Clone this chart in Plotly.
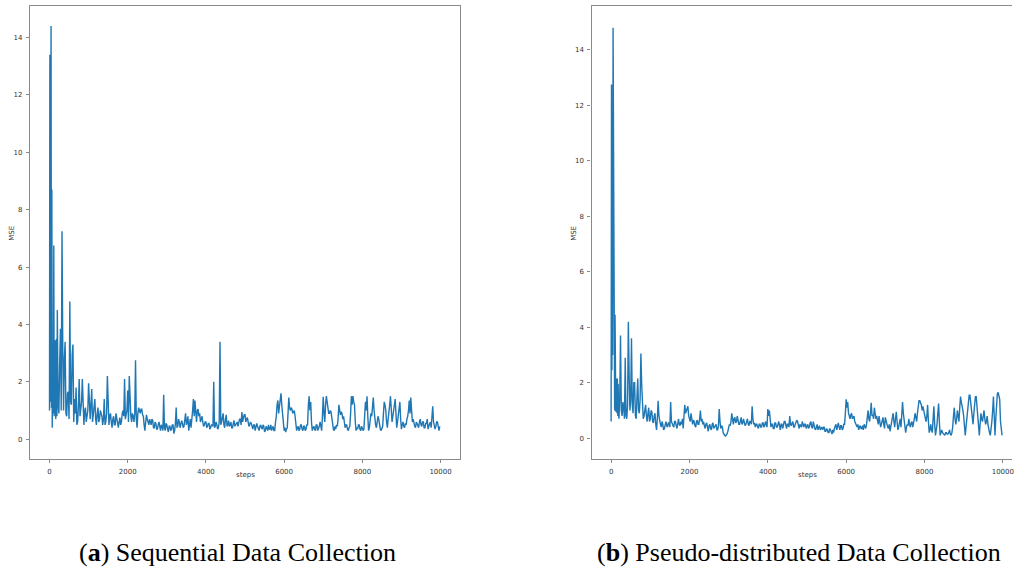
import plotly.graph_objects as go

# ---------------- data ----------------
steps = list(range(0, 200, 10)) + list(range(200, 10000, 20))

mse_sequential = [
    # 0 - 190 (every 10)
    1.0, 13.4, 1.3, 9.3, 14.4, 1.1, 8.7, 0.4, 1.9, 0.9,
    1.8, 6.75, 0.8, 2.7, 0.9, 3.45, 0.7, 1.9, 3.5, 0.8,
    # 200 onwards (every 20), 20 values per row
    4.5, 1.2, 0.9, 2.6, 3.85, 1.0, 7.25, 3.1, 1.0, 2.8, 3.4, 0.9, 0.8, 1.6, 1.65, 0.7, 4.8, 1.3, 1.2, 2.95,
    3.3, 0.6, 1.4, 0.9, 1.8, 0.5, 0.6, 1.2, 2.1, 0.8, 1.0, 1.3, 2.1, 0.7, 0.5, 1.0, 1.1, 0.6, 0.8, 1.0,
    1.95, 0.8, 0.7, 1.2, 1.75, 0.6, 0.9, 1.1, 1.4, 0.7, 0.5, 0.9, 1.1, 0.6, 0.7, 1.0, 0.9, 0.8, 0.5, 0.7,
    1.4, 0.5, 0.6, 0.9, 2.2, 0.7, 0.5, 0.8, 0.9, 0.6, 0.4, 0.7, 0.8, 0.5, 0.5, 0.9, 0.7, 0.6, 0.4, 0.6,
    0.75, 0.5, 0.6, 0.9, 1.0, 0.8, 2.1, 0.7, 0.9, 1.0, 1.7, 0.6, 2.2, 0.9, 0.8, 0.6, 0.9, 0.8, 0.6, 0.9,
    2.75, 0.7, 0.4, 0.9, 1.1, 1.0, 0.9, 1.05, 1.05, 0.85, 0.8, 0.5, 0.3, 0.6, 0.85, 0.7, 0.6, 0.5, 0.7, 0.55,
    0.5, 0.7, 0.65, 0.4, 0.4, 0.6, 0.55, 0.35, 0.35, 0.5, 0.6, 0.45, 0.3, 0.5, 0.45, 0.3, 1.55, 0.4, 0.3, 0.55,
    0.5, 0.35, 0.25, 0.45, 0.45, 0.3, 0.35, 0.5, 0.5, 0.2, 0.3, 0.55, 1.1, 0.4, 0.45, 0.7, 0.6, 0.4, 0.5, 0.65,
    0.55, 0.4, 0.45, 0.7, 0.9, 0.5, 0.6, 0.8, 0.3, 0.5, 0.7, 0.4, 0.9, 1.0, 1.4, 0.8, 1.35, 0.9, 0.6, 1.0,
    1.05, 0.8, 0.9, 0.6, 0.7, 0.8, 0.6, 0.45, 0.5, 0.6, 0.6, 0.4, 0.45, 0.55, 0.55, 0.35, 0.4, 0.5, 0.5, 0.45,
    2.0, 0.4, 0.45, 0.6, 0.5, 0.35, 0.4, 0.6, 3.4, 0.5, 0.6, 0.8, 0.9, 0.5, 0.4, 0.7, 0.85, 0.45, 0.5, 0.65,
    0.45, 0.5, 0.6, 0.4, 0.4, 0.55, 0.65, 0.45, 0.5, 0.6, 0.6, 0.45, 0.55, 0.7, 0.7, 0.5, 0.95, 0.6, 0.75, 0.85,
    0.85, 0.6, 0.7, 0.75, 0.6, 0.45, 0.5, 0.6, 0.55, 0.4, 0.35, 0.5, 0.5, 0.3, 0.4, 0.55, 0.45, 0.35, 0.3, 0.45,
    0.5, 0.4, 0.35, 0.5, 0.45, 0.25, 0.3, 0.45, 0.4, 0.3, 0.5, 0.35, 0.35, 0.5, 0.3, 0.4, 0.45, 0.3, 0.3, 0.6,
    0.8, 1.2, 1.35, 0.9, 1.1, 1.3, 1.6, 1.2, 0.9, 0.5, 0.3, 0.4, 0.25, 0.35, 0.4, 0.9, 1.45, 1.1, 1.0, 1.1,
    1.05, 0.9, 0.95, 1.0, 0.8, 0.5, 0.3, 0.4, 0.45, 0.3, 0.35, 0.5, 0.5, 0.35, 0.3, 0.45, 0.45, 0.3, 0.35, 0.5,
    0.5, 1.2, 1.5, 1.0, 1.3, 0.6, 0.3, 0.4, 0.45, 0.35, 0.3, 0.5, 0.5, 0.3, 0.35, 0.45, 0.6, 0.4, 0.3, 0.8,
    1.48, 0.9, 0.6, 1.2, 1.5, 1.3, 1.0, 0.9, 0.9, 1.0, 0.95, 0.7, 0.4, 0.35, 0.3, 0.45, 0.35, 0.5, 0.45, 0.7,
    1.2, 1.0, 0.85, 0.95, 0.9, 0.7, 0.8, 0.6, 0.4, 0.5, 0.5, 0.35, 0.3, 0.4, 0.45, 0.9, 1.5, 1.2, 1.5, 1.3,
    1.2, 0.6, 0.3, 0.4, 0.35, 0.5, 0.5, 0.35, 0.3, 0.45, 0.4, 0.3, 0.35, 0.8, 1.3, 1.0, 1.5, 0.8, 0.3, 0.4,
    0.6, 0.9, 0.8, 1.1, 1.45, 1.0, 0.6, 0.5, 0.4, 0.6, 0.8, 0.7, 0.5, 0.35, 0.3, 0.4, 0.45, 0.9, 1.3, 1.2,
    1.0, 0.6, 0.4, 0.7, 0.9, 1.2, 1.5, 1.0, 0.6, 0.8, 1.0, 1.2, 1.4, 0.9, 0.4, 0.6, 0.9, 1.1, 1.3, 0.7,
    0.35, 0.5, 0.6, 0.45, 0.4, 0.55, 0.5, 0.7, 0.8, 1.0, 1.35, 0.9, 1.45, 1.0, 0.6, 0.7, 0.5, 0.45, 0.4, 0.6,
    0.55, 0.45, 0.4, 0.6, 0.7, 0.5, 0.45, 0.6, 0.6, 0.4, 0.4, 0.55, 0.55, 0.7, 0.35, 0.45, 0.5, 0.6, 0.4, 0.7,
    1.15, 0.6, 0.5, 0.35, 0.45, 0.6, 0.6, 0.4, 0.3, 0.45,
]

mse_distributed = [
    # 0 - 190 (every 10)
    0.6, 12.75, 2.45, 9.0, 3.0, 14.8, 8.4, 2.5, 4.5, 1.0,
    4.45, 1.0, 0.95, 2.15, 1.0, 0.9, 2.15, 0.8, 1.95, 0.9,
    # 200 onwards (every 20), 20 values per row
    0.7, 1.4, 3.7, 1.0, 0.8, 1.3, 1.1, 0.7, 2.9, 0.8, 0.7, 1.2, 4.2, 2.3, 1.0, 1.4, 3.6, 1.2, 0.9, 2.0,
    2.0, 0.8, 0.7, 1.5, 2.15, 1.0, 0.9, 1.4, 3.05, 1.95, 1.5, 0.7, 0.8, 1.0, 1.2, 0.8, 0.6, 0.9, 1.1, 0.6,
    0.7, 1.0, 0.95, 0.6, 0.55, 0.8, 0.9, 0.5, 0.3, 0.7, 1.35, 0.8, 0.6, 0.5, 0.4, 0.6, 0.5, 0.3, 0.35, 0.5,
    0.6, 0.45, 0.4, 0.55, 0.55, 0.4, 1.3, 0.6, 0.5, 0.45, 0.4, 0.6, 0.6, 0.4, 0.35, 0.5, 0.7, 0.5, 0.45, 0.6,
    0.5, 0.7, 0.35, 0.8, 1.2, 0.9, 1.0, 1.1, 1.15, 0.8, 0.7, 0.6, 0.9, 0.7, 0.5, 0.65, 0.6, 0.45, 0.4, 0.6,
    0.65, 0.5, 0.5, 0.7, 1.0, 0.6, 0.7, 0.5, 0.6, 0.45, 0.35, 0.5, 0.55, 0.4, 0.25, 0.45, 0.5, 0.35, 0.3, 0.5,
    0.55, 0.35, 0.4, 0.5, 0.5, 0.3, 0.3, 0.45, 1.05, 0.6, 0.35, 0.45, 0.4, 0.2, 0.12, 0.1, 0.08, 0.12, 0.15, 0.25,
    0.35, 0.5, 0.45, 0.6, 0.9, 0.6, 0.5, 0.7, 0.75, 0.55, 0.6, 0.8, 0.7, 0.5, 0.5, 0.65, 0.75, 0.5, 0.55, 0.7,
    0.6, 0.45, 0.5, 0.65, 0.7, 0.5, 0.45, 0.6, 0.6, 0.5, 1.15, 0.7, 0.5, 0.55, 0.4, 0.5, 0.5, 0.4, 0.35, 0.5,
    0.5, 0.4, 0.4, 0.55, 0.55, 0.4, 0.45, 0.6, 0.5, 0.4, 1.05, 0.8, 1.0, 0.6, 0.4, 0.5, 0.5, 0.35, 0.35, 0.55,
    0.55, 0.4, 0.4, 0.5, 0.6, 0.45, 0.3, 0.5, 0.5, 0.35, 0.45, 0.6, 0.6, 0.4, 0.35, 0.5, 0.5, 0.4, 0.8, 0.5,
    0.45, 0.55, 0.6, 0.4, 0.4, 0.5, 0.55, 0.65, 0.6, 0.4, 0.35, 0.5, 0.45, 0.4, 0.6, 0.45, 0.4, 0.5, 0.5, 0.35,
    0.45, 0.5, 0.35, 0.4, 0.55, 0.6, 0.4, 0.35, 0.6, 0.45, 0.35, 0.3, 0.4, 0.5, 0.3, 0.35, 0.45, 0.3, 0.35, 0.4,
    0.3, 0.4, 0.4, 0.25, 0.25, 0.35, 0.3, 0.2, 0.2, 0.35, 0.3, 0.2, 0.15, 0.3, 0.2, 0.35, 0.45, 0.5, 0.3, 0.4,
    0.55, 0.4, 0.3, 0.45, 0.45, 0.3, 0.35, 0.5, 0.5, 0.9, 1.4, 1.1, 1.3, 0.9, 0.8, 0.7, 0.85, 0.9, 0.7, 0.75,
    0.8, 0.6, 0.5, 0.45, 0.4, 0.5, 0.3, 0.4, 0.45, 0.35, 0.35, 0.45, 0.3, 0.5, 0.4, 0.35, 0.5, 0.8, 1.0, 0.7,
    0.6, 0.9, 1.28, 0.8, 0.85, 0.7, 1.1, 0.9, 0.7, 0.8, 0.6, 0.5, 0.8, 0.6, 0.4, 0.5, 0.6, 0.75, 0.5, 0.35,
    0.75, 0.6, 0.5, 0.4, 0.35, 0.5, 0.25, 0.4, 0.5, 0.7, 0.9, 0.6, 0.4, 0.7, 0.95, 0.6, 0.3, 0.4, 0.5, 0.7,
    0.4, 0.8, 1.3, 0.9, 0.6, 0.3, 0.2, 0.4, 0.5, 0.45, 0.7, 0.5, 0.4, 0.55, 0.6, 0.4, 0.5, 0.7, 0.9, 0.7,
    0.6, 0.9, 1.2, 1.35, 1.35, 1.3, 1.2, 1.0, 1.15, 1.0, 0.9, 0.7, 0.6, 0.8, 1.2, 0.6, 0.2, 0.3, 0.5, 0.3,
    0.2, 0.7, 1.15, 0.5, 0.1, 0.3, 0.5, 0.9, 1.25, 0.6, 0.1, 0.2, 0.3, 0.2, 0.15, 0.1, 0.1, 0.2, 0.2, 0.15,
    0.15, 0.2, 0.3, 0.15, 0.1, 0.2, 0.4, 0.8, 1.1, 0.7, 0.5, 0.7, 1.0, 0.8, 0.6, 1.1, 1.5, 1.3, 1.2, 1.0,
    0.8, 0.4, 0.1, 0.4, 0.7, 1.0, 1.3, 1.55, 1.55, 1.3, 1.0, 0.8, 0.5, 0.9, 1.3, 1.5, 1.5, 1.2, 0.9, 0.5,
    0.1, 0.5, 0.9, 0.7, 0.6, 0.8, 1.0, 0.7, 0.5, 0.6, 0.8, 0.5, 0.3, 0.2, 0.1, 0.3, 0.6, 1.0, 1.5, 0.8,
    0.1, 0.7, 1.3, 1.6, 1.65, 1.5, 1.4, 0.6, 0.15, 0.1,
]

y_ticks = [0, 2, 4, 6, 8, 10, 12, 14]
x_ticks = [0, 2000, 4000, 6000, 8000, 10000]
x_tick_labels = ["0", "2000", "4000", "6000", "8000", "10000"]
captions = ["(<b>a</b>) Sequential Data Collection",
            "(<b>b</b>) Pseudo-distributed Data Collection"]

# ---------------- figure ----------------
W, H = 1014, 568
LINE = "#1f77b4"
SPINE = "#8a8a8a"

def px(x):
    return x / W

def py(y):
    return 1 - y / H

fig = go.Figure()
fig.add_trace(go.Scatter(x=steps[:len(mse_sequential)], y=mse_sequential, mode="lines",
                         line=dict(color=LINE, width=1.4),
                         xaxis="x", yaxis="y", showlegend=False))
fig.add_trace(go.Scatter(x=steps[:len(mse_distributed)], y=mse_distributed, mode="lines",
                         line=dict(color=LINE, width=1.4),
                         xaxis="x2", yaxis="y2", showlegend=False))

tickfont = dict(family="DejaVu Sans", size=7, color="#333333")
common_x = dict(tickvals=x_ticks, ticktext=x_tick_labels, ticks="outside", ticklen=3,
                tickwidth=1, tickcolor=SPINE, showgrid=False, zeroline=False,
                showline=True, linecolor=SPINE, linewidth=1.3,
                tickfont=tickfont, ticklabelstandoff=2, ticklabeloverflow="allow")
common_y = dict(tickvals=y_ticks, ticks="outside", ticklen=3, tickwidth=1,
                tickcolor=SPINE, showgrid=False, zeroline=False,
                showline=True, linecolor=SPINE, linewidth=1.3,
                tickfont=tickfont, ticklabelstandoff=2)

fig.update_layout(
    width=W, height=H,
    margin=dict(l=0, r=0, t=0, b=0),
    paper_bgcolor="white", plot_bgcolor="white",
    xaxis=dict(domain=[px(30), px(461)], range=[-500, 10500],
               anchor="y", mirror=True, **common_x),
    yaxis=dict(domain=[py(459), py(6)], range=[-0.69, 15.1],
               anchor="x", mirror=True, **common_y),
    xaxis2=dict(domain=[px(592.7), 1.0], range=[-500, 10234],
                anchor="y2", mirror=True, **common_x),
    yaxis2=dict(domain=[py(459), py(6)], range=[-0.75, 15.58],
                anchor="x2", **common_y),
)

label_font = dict(family="DejaVu Sans", size=7, color="#333333")
ann = []
for x_steps, x_mse in [(245.5, 11.7), (808.6, 575)]:
    ann.append(dict(text="steps", x=px(x_steps), y=py(475), xref="paper", yref="paper",
                    showarrow=False, font=label_font, xanchor="center", yanchor="middle"))
    ann.append(dict(text="MSE", x=px(x_mse), y=py(233), xref="paper", yref="paper",
                    showarrow=False, font=label_font, textangle=-90,
                    xanchor="center", yanchor="middle"))
for cap, cx in zip(captions, [238, 801]):
    ann.append(dict(text=cap, x=px(cx), y=py(552), xref="paper", yref="paper",
                    showarrow=False, xanchor="center", yanchor="middle",
                    font=dict(family="Liberation Serif", size=26, color="black")))
fig.update_layout(annotations=ann)

fig.write_html("out.html")
